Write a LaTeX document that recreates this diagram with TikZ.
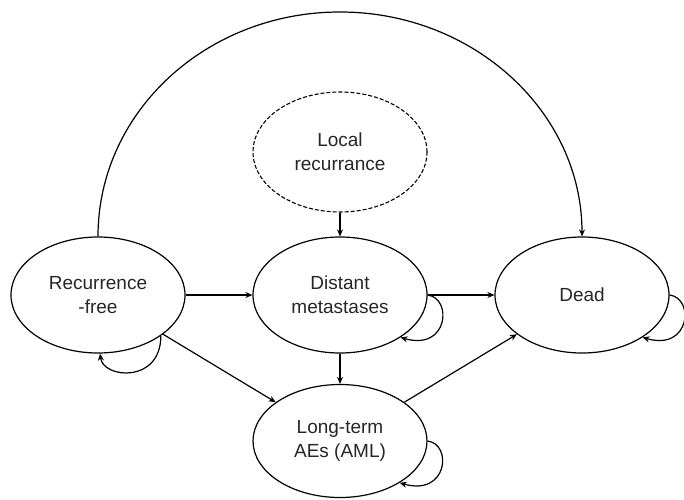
\documentclass[tikz,border=0pt]{standalone}
\usepackage{fontspec}
\setmainfont{Liberation Sans}
\usetikzlibrary{shapes.geometric,arrows.meta}

\begin{document}
\begin{tikzpicture}[x=1pt,y=-1pt,
  state/.style={ellipse,draw,line width=1.2pt,minimum width=174pt,minimum height=116pt,
    inner sep=0pt,align=center,font=\fontsize{19}{24}\selectfont,text=black!85},
  optional/.style={state,dash pattern=on 4pt off 2pt,line width=1.1pt},
  flow/.style={line width=1.2pt,-{Stealth[length=7pt,width=6pt]}}]
\useasboundingbox (0,0) rectangle (684,499);

% states of the model
\node[state]    (RF) at (98,295)  {Recurrence\\-free};
\node[state]    (DM) at (340,295) {Distant\\metastases};
\node[state]    (DE) at (582,295) {Dead};
\node[state,minimum height=113pt] (LT) at (340,441) {Long-term\\AEs (AML)};
\node[optional,minimum height=120pt] (LR) at (340,152) {Local\\recurrance};

% transitions between states
\draw[flow] (RF) -- (DM);
\draw[flow] (DM) -- (DE);
\draw[flow] (LR) -- (DM);
\draw[flow] (DM) -- (LT);
\draw[flow] (RF) -- (LT);
\draw[flow] (LT) -- (DE);

% direct transition to death, over the top
\draw[flow] (RF.north) .. controls +(0,-124.3) and +(-133.7,0) .. (340,12)
                       .. controls +(133.7,0) and +(0,-124.3) .. (DE.north);

% remaining in the same state
\draw[flow] (RF.-33) .. controls +(0,48) and +(3,25) .. (RF.-88);
\draw[flow] (DM.east) .. controls +(25,3) and +(48,14) .. (DM.-35);
\draw[flow] (LT.east) .. controls +(25,3) and +(48,14) .. (LT.-35);
\draw[flow] (DE.east) .. controls +(25,3) and +(48,14) .. (DE.-35);
\end{tikzpicture}
\end{document}
